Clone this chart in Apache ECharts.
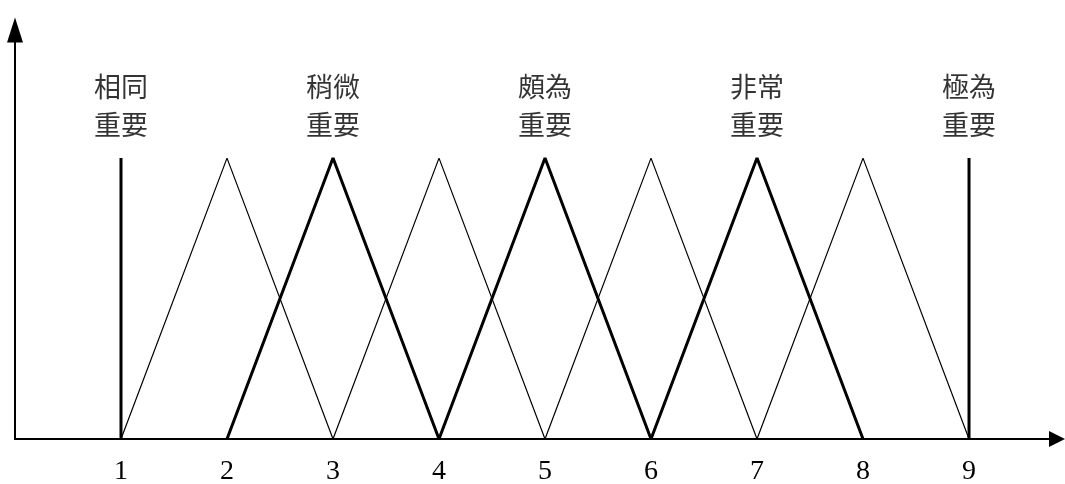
<!DOCTYPE html>
<html>
<head>
<meta charset="utf-8">
<script src="https://cdn.jsdelivr.net/npm/echarts@6/dist/echarts.min.js"></script>
<style>
  html, body { margin: 0; padding: 0; background: #fff; }
  #main { width: 1065px; height: 484px; }
</style>
</head>
<body>
<div id="main"></div>
<script>
// 刻度与数据
var tickLabels = [1, 2, 3, 4, 5, 6, 7, 8, 9];
var thinPeaks = [2, 4, 6, 8];      // 细线三角形顶点
var thickPeaks = [3, 5, 7];        // 粗线三角形顶点
var edgeLines = [1, 9];            // 两端竖线
var termX = [1, 3, 5, 7, 9];
var termNames = ['相同\n重要', '稍微\n重要', '頗為\n重要', '非常\n重要', '極為\n重要'];

var chart = echarts.init(document.getElementById('main'));

function triangle(p) {
  return [[p - 1, 0], [p, 1], [p + 1, 0]];
}

var series = [];
thinPeaks.forEach(function (p) {
  series.push({
    type: 'line', data: triangle(p), symbol: 'none', silent: true,
    lineStyle: { color: '#000', width: 1.2 }
  });
});
thickPeaks.forEach(function (p) {
  series.push({
    type: 'line', data: triangle(p), symbol: 'none', silent: true,
    lineStyle: { color: '#000', width: 3 }
  });
});
edgeLines.forEach(function (x) {
  series.push({
    type: 'line', data: [[x, 0], [x, 1]], symbol: 'none', silent: true,
    lineStyle: { color: '#000', width: 3 }
  });
});
series.push({
  type: 'scatter',
  symbolSize: 0,
  silent: true,
  data: termX.map(function (x, i) { return { value: [x, 1.185], name: termNames[i] }; }),
  label: {
    show: true,
    position: 'inside',
    formatter: function (p) { return p.name; },
    color: '#000',
    fontFamily: 'Noto Sans CJK TC',
    fontWeight: 400,
    fontSize: 27,
    lineHeight: 38,
    align: 'center',
    verticalAlign: 'middle'
  }
});

var option = {
  animation: false,
  backgroundColor: '#fff',
  grid: { left: 15, right: 8, top: 30, bottom: 45, containLabel: false, outerBoundsMode: 'none' },
  xAxis: {
    type: 'value',
    min: 0,
    max: 9.83,
    interval: 1,
    axisLine: {
      show: true,
      symbol: ['none', 'triangle'],
      symbolSize: [16, 16],
      lineStyle: { color: '#000', width: 2 }
    },
    axisTick: { show: false },
    splitLine: { show: false },
    axisLabel: {
      color: '#000',
      fontFamily: 'Liberation Serif',
      fontSize: 28,
      margin: 19,
      formatter: function (v) { return tickLabels.indexOf(v) >= 0 ? String(v) : ''; }
    }
  },
  yAxis: {
    type: 'value',
    min: 0,
    max: 1.456,
    axisLine: {
      show: true,
      symbol: ['none', 'triangle'],
      symbolSize: [16, 25],
      lineStyle: { color: '#000', width: 2 }
    },
    axisTick: { show: false },
    splitLine: { show: false },
    axisLabel: { show: false }
  },
  series: series
};

chart.setOption(option);
</script>
</body>
</html>
